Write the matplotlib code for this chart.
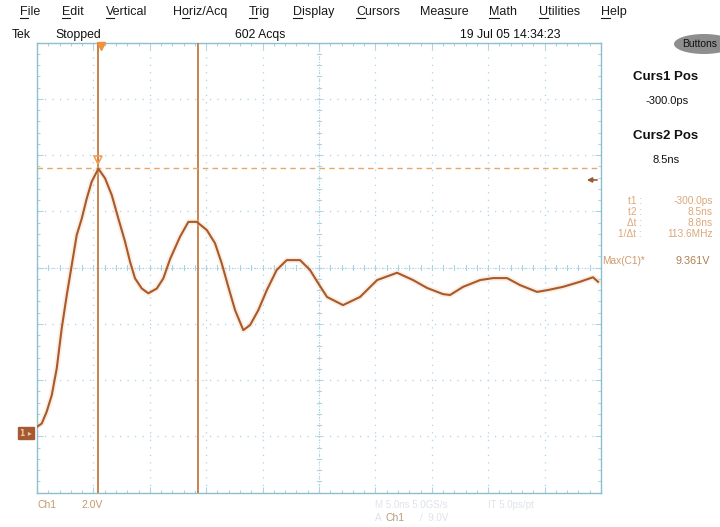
import matplotlib
matplotlib.use("Agg")
import matplotlib.pyplot as plt
from matplotlib.font_manager import FontProperties
from matplotlib.patches import Ellipse
import matplotlib.transforms as mtransforms

# ---------------- data ----------------
time_ns = [-5.76, -5.32, -4.88, -4.43, -3.99, -3.55, -3.10, -2.66, -2.22, -1.77,
           -1.33, -0.89, -0.30, 0.29, 0.89, 1.47, 2.07, 2.51, 2.95, 3.55,
           4.13, 4.88, 5.46, 6.06, 6.94, 7.68, 8.42, 9.31, 10.04, 10.64,
           11.22, 11.82, 12.55, 13.15, 13.88, 14.63, 15.51, 16.40, 17.58, 18.46,
           19.20, 19.97, 21.39, 22.90, 24.41, 26.18, 27.60, 28.84, 30.26, 30.88,
           32.04, 33.54, 34.69, 35.93, 37.09, 38.59, 39.48, 40.90, 42.40, 43.55,
           44.00]
volts = [0.22, 0.34, 0.76, 1.35, 2.30, 3.72, 4.91, 5.97, 7.04, 7.63,
         8.34, 8.94, 9.40, 9.06, 8.46, 7.63, 6.80, 6.09, 5.50, 5.14,
         4.97, 5.14, 5.50, 6.19, 6.98, 7.51, 7.51, 7.22, 6.75, 6.03,
         5.20, 4.37, 3.66, 3.84, 4.37, 5.08, 5.80, 6.15, 6.15, 5.80,
         5.32, 4.84, 4.55, 4.84, 5.44, 5.70, 5.44, 5.16, 4.94, 4.91,
         5.20, 5.44, 5.51, 5.51, 5.26, 5.02, 5.08, 5.20, 5.38, 5.54,
         5.38]

curs1_ns = -0.3
curs2_ns = 8.5
hcursor_v = 9.44
trigger_v = 9.0
ground_v = 0.0

menu_items = ["File", "Edit", "Vertical", "Horiz/Acq", "Trig", "Display",
              "Cursors", "Measure", "Math", "Utilities", "Help"]
menu_underline = [0, 0, 0, 1, 0, 0, 0, 3, 0, 0, 0]
menu_x = [20, 62, 106, 173, 249, 293, 356, 420, 489, 539, 601]

meas_labels = ["t1 :", "t2 :", "\u0394t :", "1/\u0394t :"]
meas_values = ["-300.0ps", "8.5ns", "8.8ns", "113.6MHz"]

# ---------------- figure ----------------
W, H = 720, 527
fig = plt.figure(figsize=(W / 100, H / 100), dpi=100)
fig.patch.set_facecolor("white")

def fx(x):
    return x / W

def fy(y):
    return 1 - y / H

L, R, T, B = 37, 601, 42.7, 492.7
ax = fig.add_axes([fx(L), fy(B), (R - L) / W, (B - T) / H])
ax.set_facecolor("white")

x0, xdiv = -5.74, 5.0
y0, ydiv = -2.12, 2.0
ax.set_xlim(x0, x0 + 10 * xdiv)
ax.set_ylim(y0, y0 + 8 * ydiv)

gridc = "#aad3e6"
xmaj = [x0 + k * xdiv for k in range(11)]
ymaj = [y0 + k * ydiv for k in range(9)]
xmin = [x0 + k * xdiv / 5 for k in range(51)]
ymin = [y0 + k * ydiv / 5 for k in range(41)]

for xv in xmaj[1:-1]:
    ax.axvline(xv, color=gridc, lw=0.9, ls=(0, (1, 5)), zorder=1)
for yv in ymaj[1:-1]:
    ax.axhline(yv, color=gridc, lw=0.9, ls=(0, (1, 5)), zorder=1)

xc = xmaj[5]
yc = ymaj[4]
ax.axvline(xc, color=gridc, lw=0.8, ls=(0, (1, 1.5)), zorder=1)
ax.axhline(yc, color=gridc, lw=0.8, ls=(0, (1, 1.5)), zorder=1)
for xv in xmin:
    ax.plot([xv, xv], [yc - 0.09, yc + 0.09], color=gridc, lw=0.8, zorder=1)
for yv in ymin:
    ax.plot([xc - 0.2, xc + 0.2], [yv, yv], color=gridc, lw=0.8, zorder=1)

ax.set_xticks(xmaj)
ax.set_yticks(ymaj)
ax.set_xticks(xmin, minor=True)
ax.set_yticks(ymin, minor=True)
ax.tick_params(which="both", direction="in", top=True, right=True,
               labelbottom=False, labelleft=False, color=gridc, width=0.8)
ax.tick_params(which="major", length=4)
ax.tick_params(which="minor", length=2.5)
for s in ax.spines.values():
    s.set_color("#8dbfcc")
    s.set_linewidth(1.0)

# cursors
curc = "#c47a40"
ax.axvline(curs1_ns, color=curc, lw=1.3, zorder=3)
ax.axvline(curs2_ns, color=curc, lw=1.3, zorder=3)
ax.axhline(hcursor_v, color="#e5a86a", lw=1.0, ls=(0, (4, 3)), zorder=3)

# trace (persistence halo + main)
ax.plot(time_ns, volts, color="#f3c7a6", lw=4.0, alpha=0.3, zorder=4,
        solid_joinstyle="round")
ax.plot(time_ns, volts, color="#a85a2a", lw=1.5, zorder=5,
        solid_joinstyle="round")

# markers
ax.plot([curs1_ns + 0.2], [y0 + 8 * ydiv - 0.12], marker="v", ms=6,
        color="#f0923a", clip_on=False, zorder=6)
ax.plot([curs1_ns], [hcursor_v + 0.28], marker="v", ms=6, mfc="none",
        mec="#f0a050", mew=1.2, zorder=6)

# trigger level arrow
trans_blend = mtransforms.blended_transform_factory(ax.transAxes, ax.transData)
ax.annotate("", xy=(0.970, trigger_v), xycoords=trans_blend,
            xytext=(0.998, trigger_v), textcoords=trans_blend,
            arrowprops=dict(arrowstyle="-|>", color="#9a5a30", lw=1.2,
                            mutation_scale=7))

# ground marker box
ax.text(-0.019, ground_v, "1 \u25b8", transform=trans_blend, ha="center",
        va="center", fontsize=5.5, color="#f0c8a8", fontweight="bold",
        bbox=dict(boxstyle="square,pad=0.25", fc="#a65a32", ec="#a65a32"),
        clip_on=False, zorder=7)

# ---------------- text ----------------
ff = ["Liberation Sans", "DejaVu Sans"]
menu_fp = FontProperties(family=ff, size=9)
renderer = fig.canvas.get_renderer()

for name, ui, xm in zip(menu_items, menu_underline, menu_x):
    fig.text(fx(xm), fy(12), name, fontproperties=menu_fp, color="#1a1a1a",
             ha="left", va="center")
    wpre = renderer.get_text_width_height_descent(name[:ui], menu_fp, False)[0] if ui > 0 else 0
    wch = renderer.get_text_width_height_descent(name[ui], menu_fp, False)[0]
    yl = fy(18)
    fig.add_artist(plt.Line2D([fx(xm + wpre), fx(xm + wpre + wch)], [yl, yl],
                              color="#1a1a1a", lw=0.8))

row2_fp = FontProperties(family=ff, size=8.8)
for s, xm in [("Tek", 12), ("Stopped", 55), ("602 Acqs", 235),
              ("19 Jul 05 14:34:23", 460)]:
    fig.text(fx(xm), fy(35), s, fontproperties=row2_fp, color="#111111",
             ha="left", va="center")

# Buttons
ell = Ellipse((fx(704), fy(44)), width=fx(60), height=20 / H,
              transform=fig.transFigure, fc="#8e8e8e", ec="none")
fig.add_artist(ell)
fig.text(fx(682), fy(44), "Buttons", fontsize=7.5, color="#111111",
         family=ff, ha="left", va="center")

fig.text(fx(666), fy(77), "Curs1 Pos", fontsize=9.5, fontweight="bold",
         color="#111111", family=ff, ha="center", va="center")
fig.text(fx(667), fy(101.5), "-300.0ps", fontsize=8, color="#111111",
         family=ff, ha="center", va="center")
fig.text(fx(666), fy(136), "Curs2 Pos", fontsize=9.5, fontweight="bold",
         color="#111111", family=ff, ha="center", va="center")
fig.text(fx(666), fy(159.5), "8.5ns", fontsize=8, color="#111111",
         family=ff, ha="center", va="center")

measc = "#dba87a"
for i, (lab, val) in enumerate(zip(meas_labels, meas_values)):
    yy = 201.5 + i * 10.9
    fig.text(fx(642), fy(yy), lab, fontsize=7.3, color=measc, family=ff,
             ha="right", va="center")
    fig.text(fx(713), fy(yy), val, fontsize=7.3, color=measc, family=ff,
             ha="right", va="center")

fig.text(fx(602), fy(261.5), "Max(C1)*", fontsize=7.3, color="#cf9a6c",
         family=ff, ha="left", va="center")
fig.text(fx(710), fy(261.5), "9.361V", fontsize=7.8, color="#b08050",
         family=ff, ha="right", va="center")

# bottom
fig.text(fx(37), fy(505), "Ch1", fontsize=7.5, color="#c49a6c", family=ff,
         ha="left", va="center")
fig.text(fx(81), fy(505), "2.0V", fontsize=7.5, color="#c49a6c", family=ff,
         ha="left", va="center")
faint = "#dfe3ea"
fig.text(fx(375), fy(505), "M 5.0ns 5.0GS/s", fontsize=7, color=faint,
         family=ff, ha="left", va="center")
fig.text(fx(488), fy(505), "IT 5.0ps/pt", fontsize=7, color=faint,
         family=ff, ha="left", va="center")
fig.text(fx(375), fy(518), "A", fontsize=7, color=faint, family=ff,
         ha="left", va="center")
fig.text(fx(386), fy(518), "Ch1", fontsize=7.5, color="#b89a7a", family=ff,
         ha="left", va="center")
fig.text(fx(420), fy(518), "/  9.0V", fontsize=7, color=faint, family=ff,
         ha="left", va="center")

fig.savefig("out.png", dpi=100, facecolor="white")
